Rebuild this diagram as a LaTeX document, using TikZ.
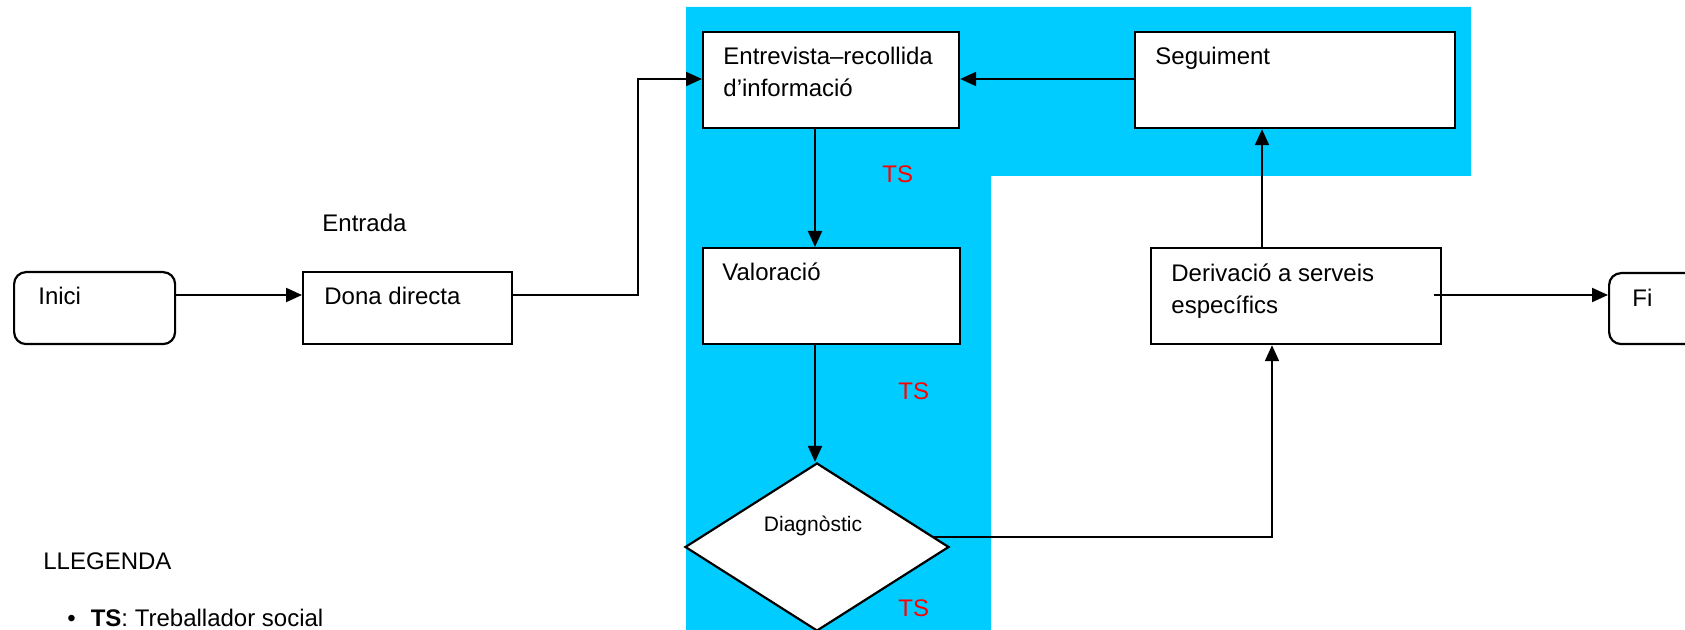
\documentclass[tikz,border=0pt]{standalone}
\usepackage{fontspec}
\setmainfont{Liberation Sans}
\usetikzlibrary{arrows.meta,shapes.geometric}
\definecolor{bgblue}{RGB}{0,204,255}
\begin{document}
\begin{tikzpicture}[x=0.5pt,y=-0.5pt,
  box/.style={draw, line width=1.1pt, fill=white, anchor=north west, inner sep=0pt, minimum height=48pt},
  rbox/.style={box, rounded corners=6pt},
  txt/.style={anchor=base west, inner sep=0pt, font=\fontsize{12}{16}\selectfont},
  ts/.style={txt, text=red},
  arr/.style={line width=1pt, -{Triangle[length=8pt,width=7pt]}}
]
\useasboundingbox (0,0) rectangle (1685,630);
\fill[bgblue] (686,7) -- (1471,7) -- (1471,176) -- (991,176) -- (991,630) -- (686,630) -- cycle;

% boxes
\node[rbox, minimum width=80.5pt, minimum height=36pt] (inici) at (13,271) {};
\node[box, minimum width=104.5pt, minimum height=36pt] (dona) at (302,271) {};
\node[box, minimum width=128pt] (entre) at (702,31) {};
\node[box, minimum width=160pt] (seg) at (1134,31) {};
\node[box, minimum width=128.5pt] (val) at (702,247) {};
\node[box, minimum width=145pt] (deriv) at (1150,247) {};
\node[rbox, minimum width=80.5pt, minimum height=35.5pt] (fi) at (1608,272) {};
\node[diamond, draw, line width=1.1pt, fill=white, inner sep=0pt, minimum width=132pt, minimum height=84pt] (diag) at (817,547) {};

% texts
\node[txt] (inici-t) at (38,305) {Inici};
\node[txt] (dona-t) at (324,305) {Dona directa};
\node[txt] (entrada) at (322,232) {Entrada};
\node[txt] (entre-t) at (723,65) {\begin{tabular}[t]{@{}l@{}}Entrevista–recollida\\d’informació\end{tabular}};
\node[txt] (seg-t) at (1155,65) {Seguiment};
\node[txt] (val-t) at (722,281) {Valoració};
\node[txt] (deriv-t) at (1171,282) {\begin{tabular}[t]{@{}l@{}}Derivació a serveis\\específics\end{tabular}};
\node[txt] (fi-t) at (1632,307) {Fi};
\node[anchor=base, inner sep=0pt, font=\fontsize{10.5}{12}\selectfont] (diag-t) at (813,531) {Diagnòstic};
\node[ts] (ts1) at (882,183) {TS};
\node[ts] (ts2) at (898,400) {TS};
\node[ts] (ts3) at (898,616) {TS};
\node[txt] (llegenda) at (43,569) {LLEGENDA};
\node[txt] (leg) at (67,626) {\textbullet\hspace{7.5pt}\textbf{TS}: Treballador social};

% connectors
\coordinate (r1) at (0,295);
\coordinate (r2) at (0,79);
\coordinate (k1) at (638,0);
\coordinate (c1) at (815,0);
\coordinate (c2) at (1272,0);
\coordinate (c3) at (1262,0);
\draw[arr] (inici.east |- r1) -- (dona.west |- r1);
\draw[arr] (dona.east |- r1) -| (k1 |- r2) -- (entre.west |- r2);
\draw[arr] (seg.west |- r2) -- (entre.east |- r2);
\draw[arr] (entre.south -| c1) -- (val.north -| c1);
\draw[arr] (val.south -| c1) -- (diag.north -| c1);
\draw[arr] (diag.5) -| (deriv.south -| c2);
\draw[arr] (deriv.north -| c3) -- (seg.south -| c3);
\draw[arr] ([xshift=-4pt]deriv.east |- r1) -- (fi.west |- r1);
\end{tikzpicture}
\end{document}
